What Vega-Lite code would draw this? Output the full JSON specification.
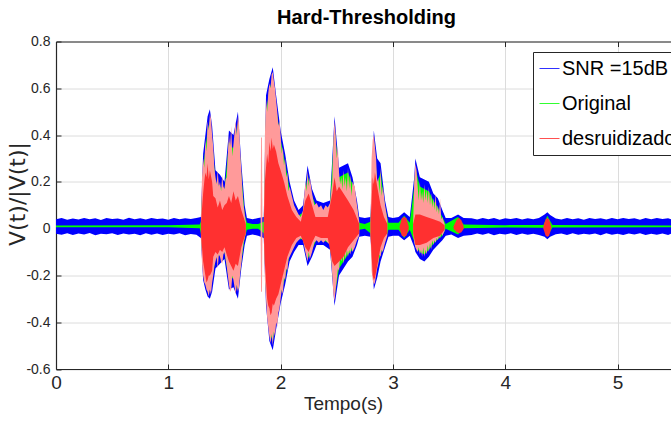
{
  "$schema": "https://vega.github.io/schema/vega-lite/v6.json",
  "autosize": {"type": "none"},
  "padding": {"left": 56, "top": 41.5, "right": 0, "bottom": 52},
  "width": 615,
  "height": 327.5,
  "background": "white",
  "title": {"text": "Hard-Thresholding", "fontSize": 20, "fontWeight": "bold", "font": "Liberation Sans Narrow, Liberation Sans", "color": "#000000", "anchor": "middle", "offset": 7, "dx": 3},
  "config": {"view": {"stroke": null}, "font": "Liberation Sans"},
  "datasets": {
    "blue": [
      {"t":0.00,"hi":0.040,"lo":-0.022},{"t":0.05,"hi":0.045,"lo":-0.026},{"t":0.10,"hi":0.038,"lo":-0.020},{"t":0.15,"hi":0.043,"lo":-0.027},
      {"t":0.20,"hi":0.039,"lo":-0.021},{"t":0.25,"hi":0.046,"lo":-0.025},{"t":0.30,"hi":0.040,"lo":-0.019},{"t":0.35,"hi":0.044,"lo":-0.028},
      {"t":0.40,"hi":0.037,"lo":-0.022},{"t":0.45,"hi":0.045,"lo":-0.024},{"t":0.50,"hi":0.041,"lo":-0.020},{"t":0.55,"hi":0.043,"lo":-0.027},
      {"t":0.60,"hi":0.038,"lo":-0.021},{"t":0.65,"hi":0.047,"lo":-0.025},{"t":0.70,"hi":0.040,"lo":-0.022},{"t":0.75,"hi":0.044,"lo":-0.028},
      {"t":0.80,"hi":0.039,"lo":-0.020},{"t":0.85,"hi":0.045,"lo":-0.026},{"t":0.90,"hi":0.041,"lo":-0.021},{"t":0.95,"hi":0.043,"lo":-0.027},
      {"t":1.00,"hi":0.038,"lo":-0.022},{"t":1.05,"hi":0.046,"lo":-0.025},{"t":1.10,"hi":0.040,"lo":-0.020},{"t":1.15,"hi":0.044,"lo":-0.028},
      {"t":1.20,"hi":0.041,"lo":-0.023},{"t":1.25,"hi":0.045,"lo":-0.026},
      {"t":1.29,"hi":0.05,"lo":-0.04},{"t":1.31,"hi":0.32,"lo":-0.22},{"t":1.33,"hi":0.40,"lo":-0.26},{"t":1.35,"hi":0.48,"lo":-0.29},
      {"t":1.37,"hi":0.51,"lo":-0.30},{"t":1.39,"hi":0.44,"lo":-0.27},{"t":1.42,"hi":0.25,"lo":-0.17},{"t":1.46,"hi":0.23,"lo":-0.15},
      {"t":1.50,"hi":0.20,"lo":-0.13},{"t":1.54,"hi":0.42,"lo":-0.26},{"t":1.58,"hi":0.40,"lo":-0.25},{"t":1.62,"hi":0.50,"lo":-0.30},
      {"t":1.65,"hi":0.28,"lo":-0.17},{"t":1.68,"hi":0.10,"lo":-0.07},{"t":1.70,"hi":0.045,"lo":-0.03},{"t":1.75,"hi":0.04,"lo":-0.025},
      {"t":1.80,"hi":0.045,"lo":-0.03},{"t":1.85,"hi":0.05,"lo":-0.04},{"t":1.87,"hi":0.57,"lo":-0.33},{"t":1.90,"hi":0.64,"lo":-0.48},
      {"t":1.93,"hi":0.69,"lo":-0.52},{"t":1.96,"hi":0.57,"lo":-0.43},{"t":2.00,"hi":0.42,"lo":-0.32},{"t":2.04,"hi":0.32,"lo":-0.24},
      {"t":2.08,"hi":0.20,"lo":-0.14},{"t":2.12,"hi":0.12,"lo":-0.10},{"t":2.16,"hi":0.08,"lo":-0.07},{"t":2.20,"hi":0.10,"lo":-0.07},
      {"t":2.24,"hi":0.27,"lo":-0.16},{"t":2.28,"hi":0.17,"lo":-0.12},{"t":2.32,"hi":0.12,"lo":-0.07},{"t":2.38,"hi":0.11,"lo":-0.07},
      {"t":2.44,"hi":0.12,"lo":-0.09},{"t":2.48,"hi":0.48,"lo":-0.33},{"t":2.52,"hi":0.26,"lo":-0.20},{"t":2.56,"hi":0.27,"lo":-0.17},
      {"t":2.60,"hi":0.28,"lo":-0.14},{"t":2.64,"hi":0.22,"lo":-0.12},{"t":2.68,"hi":0.12,"lo":-0.07},{"t":2.70,"hi":0.05,"lo":-0.035},
      {"t":2.75,"hi":0.045,"lo":-0.03},{"t":2.80,"hi":0.05,"lo":-0.035},{"t":2.83,"hi":0.42,"lo":-0.26},{"t":2.86,"hi":0.30,"lo":-0.21},
      {"t":2.89,"hi":0.28,"lo":-0.14},{"t":2.93,"hi":0.12,"lo":-0.08},{"t":2.96,"hi":0.05,"lo":-0.035},{"t":3.00,"hi":0.045,"lo":-0.03},
      {"t":3.05,"hi":0.05,"lo":-0.03},{"t":3.10,"hi":0.07,"lo":-0.05},{"t":3.15,"hi":0.05,"lo":-0.03},{"t":3.19,"hi":0.22,"lo":-0.08},
      {"t":3.20,"hi":0.30,"lo":-0.10},{"t":3.24,"hi":0.22,"lo":-0.13},{"t":3.28,"hi":0.21,"lo":-0.14},{"t":3.32,"hi":0.20,"lo":-0.12},
      {"t":3.36,"hi":0.15,"lo":-0.09},{"t":3.40,"hi":0.13,"lo":-0.07},{"t":3.44,"hi":0.08,"lo":-0.05},{"t":3.47,"hi":0.045,"lo":-0.03},
      {"t":3.52,"hi":0.045,"lo":-0.025},{"t":3.58,"hi":0.06,"lo":-0.04},{"t":3.63,"hi":0.045,"lo":-0.03},{"t":3.70,"hi":0.044,"lo":-0.027},
      {"t":3.75,"hi":0.039,"lo":-0.021},{"t":3.80,"hi":0.046,"lo":-0.026},{"t":3.85,"hi":0.040,"lo":-0.020},{"t":3.90,"hi":0.045,"lo":-0.028},
      {"t":3.95,"hi":0.038,"lo":-0.022},{"t":4.00,"hi":0.044,"lo":-0.025},{"t":4.05,"hi":0.041,"lo":-0.020},{"t":4.10,"hi":0.046,"lo":-0.027},
      {"t":4.15,"hi":0.039,"lo":-0.021},{"t":4.20,"hi":0.044,"lo":-0.026},{"t":4.25,"hi":0.040,"lo":-0.022},{"t":4.30,"hi":0.045,"lo":-0.027},
      {"t":4.35,"hi":0.06,"lo":-0.035},{"t":4.375,"hi":0.07,"lo":-0.045},{"t":4.40,"hi":0.058,"lo":-0.035},{"t":4.45,"hi":0.043,"lo":-0.024},
      {"t":4.50,"hi":0.039,"lo":-0.021},{"t":4.55,"hi":0.045,"lo":-0.027},{"t":4.60,"hi":0.040,"lo":-0.020},{"t":4.65,"hi":0.044,"lo":-0.026},
      {"t":4.70,"hi":0.038,"lo":-0.022},{"t":4.75,"hi":0.046,"lo":-0.025},{"t":4.80,"hi":0.041,"lo":-0.021},{"t":4.85,"hi":0.044,"lo":-0.028},
      {"t":4.90,"hi":0.039,"lo":-0.020},{"t":4.95,"hi":0.045,"lo":-0.026},{"t":5.00,"hi":0.040,"lo":-0.022},{"t":5.05,"hi":0.046,"lo":-0.027},
      {"t":5.10,"hi":0.041,"lo":-0.021},{"t":5.15,"hi":0.044,"lo":-0.025},{"t":5.20,"hi":0.038,"lo":-0.020},{"t":5.25,"hi":0.045,"lo":-0.027},
      {"t":5.30,"hi":0.040,"lo":-0.022},{"t":5.35,"hi":0.046,"lo":-0.026},{"t":5.40,"hi":0.041,"lo":-0.021},{"t":5.45,"hi":0.044,"lo":-0.027},
      {"t":5.476,"hi":0.040,"lo":-0.022}
    ],
    "green": [
      {"t":0.00,"hi":0.013,"lo":0.006},{"t":1.00,"hi":0.014,"lo":0.006},{"t":1.28,"hi":0.018,"lo":0.002},{"t":1.29,"hi":0.03,"lo":-0.02},
      {"t":1.31,"hi":0.26,"lo":-0.18},{"t":1.33,"hi":0.34,"lo":-0.22},{"t":1.35,"hi":0.42,"lo":-0.25},{"t":1.37,"hi":0.46,"lo":-0.26},
      {"t":1.39,"hi":0.38,"lo":-0.22},{"t":1.42,"hi":0.20,"lo":-0.13},{"t":1.46,"hi":0.18,"lo":-0.11},{"t":1.50,"hi":0.16,"lo":-0.10},
      {"t":1.54,"hi":0.37,"lo":-0.22},{"t":1.58,"hi":0.34,"lo":-0.21},{"t":1.62,"hi":0.45,"lo":-0.26},{"t":1.65,"hi":0.23,"lo":-0.14},
      {"t":1.68,"hi":0.06,"lo":-0.04},{"t":1.70,"hi":0.025,"lo":-0.005},{"t":1.75,"hi":0.02,"lo":0.0},{"t":1.80,"hi":0.02,"lo":0.0},
      {"t":1.85,"hi":0.03,"lo":-0.02},{"t":1.87,"hi":0.50,"lo":-0.28},{"t":1.90,"hi":0.59,"lo":-0.44},{"t":1.93,"hi":0.65,"lo":-0.48},
      {"t":1.96,"hi":0.52,"lo":-0.39},{"t":2.00,"hi":0.38,"lo":-0.28},{"t":2.04,"hi":0.28,"lo":-0.21},{"t":2.08,"hi":0.17,"lo":-0.11},
      {"t":2.12,"hi":0.09,"lo":-0.07},{"t":2.16,"hi":0.055,"lo":-0.045},{"t":2.20,"hi":0.07,"lo":-0.045},{"t":2.24,"hi":0.23,"lo":-0.13},
      {"t":2.28,"hi":0.14,"lo":-0.09},{"t":2.32,"hi":0.09,"lo":-0.045},{"t":2.38,"hi":0.075,"lo":-0.05},{"t":2.44,"hi":0.10,"lo":-0.065},
      {"t":2.48,"hi":0.44,"lo":-0.29},{"t":2.52,"hi":0.22,"lo":-0.17},{"t":2.56,"hi":0.23,"lo":-0.14},{"t":2.60,"hi":0.24,"lo":-0.11},
      {"t":2.64,"hi":0.19,"lo":-0.09},{"t":2.68,"hi":0.09,"lo":-0.045},{"t":2.70,"hi":0.025,"lo":-0.005},{"t":2.75,"hi":0.02,"lo":0.0},
      {"t":2.80,"hi":0.03,"lo":-0.02},{"t":2.83,"hi":0.38,"lo":-0.22},{"t":2.86,"hi":0.19,"lo":-0.16},{"t":2.89,"hi":0.24,"lo":-0.11},
      {"t":2.93,"hi":0.09,"lo":-0.055},{"t":2.96,"hi":0.025,"lo":-0.005},{"t":3.05,"hi":0.025,"lo":-0.005},{"t":3.10,"hi":0.055,"lo":-0.04},
      {"t":3.15,"hi":0.025,"lo":-0.005},{"t":3.19,"hi":0.18,"lo":-0.055},{"t":3.20,"hi":0.26,"lo":-0.075},{"t":3.24,"hi":0.18,"lo":-0.10},
      {"t":3.28,"hi":0.17,"lo":-0.11},{"t":3.32,"hi":0.16,"lo":-0.09},{"t":3.36,"hi":0.12,"lo":-0.065},{"t":3.40,"hi":0.09,"lo":-0.045},
      {"t":3.44,"hi":0.05,"lo":-0.03},{"t":3.47,"hi":0.02,"lo":0.0},{"t":3.58,"hi":0.05,"lo":-0.025},{"t":3.63,"hi":0.018,"lo":0.002},
      {"t":4.00,"hi":0.015,"lo":0.005},{"t":4.34,"hi":0.016,"lo":0.004},{"t":4.375,"hi":0.055,"lo":-0.035},{"t":4.42,"hi":0.016,"lo":0.005},
      {"t":5.476,"hi":0.013,"lo":0.006}
    ],
    "pink": [
      {"seg":"A","t":1.29,"hi":0.03,"lo":-0.03},{"seg":"A","t":1.30,"hi":0.22,"lo":-0.15},{"seg":"A","t":1.31,"hi":0.30,"lo":-0.20},
      {"seg":"A","t":1.32,"hi":0.26,"lo":-0.23},{"seg":"A","t":1.33,"hi":0.38,"lo":-0.24},{"seg":"A","t":1.34,"hi":0.33,"lo":-0.26},
      {"seg":"A","t":1.35,"hi":0.46,"lo":-0.27},{"seg":"A","t":1.36,"hi":0.42,"lo":-0.29},
      {"seg":"A","t":1.37,"hi":0.49,"lo":-0.26},{"seg":"A","t":1.38,"hi":0.47,"lo":-0.28},{"seg":"A","t":1.39,"hi":0.40,"lo":-0.23},{"seg":"A","t":1.40,"hi":0.35,"lo":-0.20},
      {"seg":"A","t":1.41,"hi":0.26,"lo":-0.16},{"seg":"A","t":1.42,"hi":0.22,"lo":-0.14},{"seg":"A","t":1.43,"hi":0.19,"lo":-0.12},{"seg":"A","t":1.44,"hi":0.25,"lo":-0.17},
      {"seg":"A","t":1.45,"hi":0.18,"lo":-0.11},{"seg":"A","t":1.46,"hi":0.20,"lo":-0.12},{"seg":"A","t":1.47,"hi":0.16,"lo":-0.14},
      {"seg":"A","t":1.48,"hi":0.23,"lo":-0.15},{"seg":"A","t":1.49,"hi":0.18,"lo":-0.11},{"seg":"A","t":1.50,"hi":0.17,"lo":-0.10},{"seg":"A","t":1.51,"hi":0.21,"lo":-0.13},{"seg":"A","t":1.52,"hi":0.22,"lo":-0.16},
      {"seg":"A","t":1.53,"hi":0.32,"lo":-0.20},{"seg":"A","t":1.54,"hi":0.40,"lo":-0.24},{"seg":"A","t":1.55,"hi":0.35,"lo":-0.27},{"seg":"A","t":1.56,"hi":0.44,"lo":-0.26},{"seg":"A","t":1.57,"hi":0.31,"lo":-0.20},{"seg":"A","t":1.58,"hi":0.36,"lo":-0.22},
      {"seg":"A","t":1.59,"hi":0.41,"lo":-0.25},{"seg":"A","t":1.60,"hi":0.46,"lo":-0.28},{"seg":"A","t":1.61,"hi":0.40,"lo":-0.24},{"seg":"A","t":1.62,"hi":0.48,"lo":-0.27},{"seg":"A","t":1.63,"hi":0.45,"lo":-0.25},
      {"seg":"A","t":1.64,"hi":0.33,"lo":-0.19},{"seg":"A","t":1.65,"hi":0.25,"lo":-0.15},{"seg":"A","t":1.66,"hi":0.16,"lo":-0.10},{"seg":"A","t":1.67,"hi":0.10,"lo":-0.06},{"seg":"A","t":1.69,"hi":0.03,"lo":-0.02},
      {"seg":"S","t":1.822,"hi":0.02,"lo":-0.02},{"seg":"S","t":1.826,"hi":0.39,"lo":-0.27},{"seg":"S","t":1.834,"hi":0.39,"lo":-0.27},{"seg":"S","t":1.838,"hi":0.02,"lo":-0.02},
      {"seg":"B","t":1.85,"hi":0.03,"lo":-0.03},{"seg":"B","t":1.86,"hi":0.40,"lo":-0.22},{"seg":"B","t":1.87,"hi":0.55,"lo":-0.30},
      {"seg":"B","t":1.88,"hi":0.50,"lo":-0.38},{"seg":"B","t":1.89,"hi":0.58,"lo":-0.42},{"seg":"B","t":1.90,"hi":0.62,"lo":-0.46},
      {"seg":"B","t":1.91,"hi":0.60,"lo":-0.49},{"seg":"B","t":1.92,"hi":0.66,"lo":-0.45},{"seg":"B","t":1.93,"hi":0.67,"lo":-0.50},
      {"seg":"B","t":1.94,"hi":0.63,"lo":-0.44},{"seg":"B","t":1.95,"hi":0.60,"lo":-0.46},{"seg":"B","t":1.96,"hi":0.55,"lo":-0.40},
      {"seg":"B","t":1.97,"hi":0.50,"lo":-0.42},{"seg":"B","t":1.98,"hi":0.44,"lo":-0.36},{"seg":"B","t":1.99,"hi":0.46,"lo":-0.34},
      {"seg":"B","t":2.00,"hi":0.40,"lo":-0.30},{"seg":"B","t":2.01,"hi":0.32,"lo":-0.26},{"seg":"B","t":2.02,"hi":0.35,"lo":-0.28},{"seg":"B","t":2.03,"hi":0.27,"lo":-0.21},{"seg":"B","t":2.04,"hi":0.30,"lo":-0.22},
      {"seg":"B","t":2.05,"hi":0.22,"lo":-0.17},{"seg":"B","t":2.06,"hi":0.24,"lo":-0.18},{"seg":"B","t":2.07,"hi":0.16,"lo":-0.13},{"seg":"B","t":2.08,"hi":0.18,"lo":-0.12},{"seg":"B","t":2.10,"hi":0.14,"lo":-0.10},
      {"seg":"B","t":2.12,"hi":0.10,"lo":-0.08},{"seg":"B","t":2.14,"hi":0.08,"lo":-0.06},{"seg":"B","t":2.16,"hi":0.06,"lo":-0.05},
      {"seg":"B","t":2.18,"hi":0.05,"lo":-0.04},{"seg":"B","t":2.20,"hi":0.08,"lo":-0.05},{"seg":"B","t":2.22,"hi":0.20,"lo":-0.10},
      {"seg":"B","t":2.23,"hi":0.16,"lo":-0.12},{"seg":"B","t":2.24,"hi":0.25,"lo":-0.14},{"seg":"B","t":2.25,"hi":0.18,"lo":-0.10},{"seg":"B","t":2.26,"hi":0.22,"lo":-0.13},{"seg":"B","t":2.28,"hi":0.15,"lo":-0.10},
      {"seg":"B","t":2.30,"hi":0.10,"lo":-0.06},{"seg":"B","t":2.32,"hi":0.11,"lo":-0.05},{"seg":"B","t":2.34,"hi":0.09,"lo":-0.06},
      {"seg":"B","t":2.36,"hi":0.10,"lo":-0.05},{"seg":"B","t":2.38,"hi":0.08,"lo":-0.06},{"seg":"B","t":2.40,"hi":0.10,"lo":-0.05},
      {"seg":"B","t":2.42,"hi":0.09,"lo":-0.06},{"seg":"B","t":2.44,"hi":0.11,"lo":-0.07},{"seg":"B","t":2.46,"hi":0.20,"lo":-0.20},
      {"seg":"B","t":2.47,"hi":0.38,"lo":-0.28},{"seg":"B","t":2.48,"hi":0.46,"lo":-0.31},{"seg":"B","t":2.49,"hi":0.40,"lo":-0.26},
      {"seg":"B","t":2.50,"hi":0.30,"lo":-0.22},{"seg":"B","t":2.51,"hi":0.35,"lo":-0.17},{"seg":"B","t":2.52,"hi":0.24,"lo":-0.18},{"seg":"B","t":2.53,"hi":0.19,"lo":-0.12},{"seg":"B","t":2.54,"hi":0.22,"lo":-0.14},
      {"seg":"B","t":2.55,"hi":0.17,"lo":-0.11},{"seg":"B","t":2.56,"hi":0.25,"lo":-0.15},{"seg":"B","t":2.57,"hi":0.18,"lo":-0.10},{"seg":"B","t":2.58,"hi":0.22,"lo":-0.13},{"seg":"B","t":2.59,"hi":0.16,"lo":-0.09},{"seg":"B","t":2.60,"hi":0.26,"lo":-0.12},
      {"seg":"B","t":2.61,"hi":0.17,"lo":-0.09},{"seg":"B","t":2.62,"hi":0.23,"lo":-0.11},{"seg":"B","t":2.63,"hi":0.14,"lo":-0.08},{"seg":"B","t":2.64,"hi":0.20,"lo":-0.10},{"seg":"B","t":2.66,"hi":0.18,"lo":-0.08},
      {"seg":"B","t":2.68,"hi":0.10,"lo":-0.05},{"seg":"B","t":2.70,"hi":0.03,"lo":-0.03},
      {"seg":"C","t":2.80,"hi":0.03,"lo":-0.03},{"seg":"C","t":2.81,"hi":0.30,"lo":-0.18},{"seg":"C","t":2.82,"hi":0.38,"lo":-0.22},
      {"seg":"C","t":2.83,"hi":0.40,"lo":-0.24},{"seg":"C","t":2.84,"hi":0.35,"lo":-0.23},{"seg":"C","t":2.85,"hi":0.30,"lo":-0.20},
      {"seg":"C","t":2.86,"hi":0.20,"lo":-0.17},{"seg":"C","t":2.87,"hi":0.22,"lo":-0.15},{"seg":"C","t":2.88,"hi":0.15,"lo":-0.11},{"seg":"C","t":2.89,"hi":0.26,"lo":-0.12},{"seg":"C","t":2.90,"hi":0.14,"lo":-0.09},{"seg":"C","t":2.91,"hi":0.18,"lo":-0.10},
      {"seg":"C","t":2.93,"hi":0.10,"lo":-0.06},{"seg":"C","t":2.95,"hi":0.04,"lo":-0.03},
      {"seg":"D","t":3.18,"hi":0.03,"lo":-0.02},{"seg":"D","t":3.19,"hi":0.20,"lo":-0.06},{"seg":"D","t":3.20,"hi":0.28,"lo":-0.08},
      {"seg":"D","t":3.21,"hi":0.25,"lo":-0.09},{"seg":"D","t":3.22,"hi":0.18,"lo":-0.10},{"seg":"D","t":3.23,"hi":0.12,"lo":-0.08},{"seg":"D","t":3.24,"hi":0.20,"lo":-0.11},
      {"seg":"D","t":3.25,"hi":0.12,"lo":-0.09},{"seg":"D","t":3.26,"hi":0.16,"lo":-0.12},{"seg":"D","t":3.27,"hi":0.11,"lo":-0.08},{"seg":"D","t":3.28,"hi":0.19,"lo":-0.12},{"seg":"D","t":3.29,"hi":0.12,"lo":-0.09},{"seg":"D","t":3.30,"hi":0.17,"lo":-0.11},
      {"seg":"D","t":3.31,"hi":0.11,"lo":-0.07},{"seg":"D","t":3.32,"hi":0.18,"lo":-0.10},{"seg":"D","t":3.33,"hi":0.10,"lo":-0.06},{"seg":"D","t":3.34,"hi":0.15,"lo":-0.09},{"seg":"D","t":3.35,"hi":0.09,"lo":-0.05},{"seg":"D","t":3.36,"hi":0.13,"lo":-0.07},
      {"seg":"D","t":3.37,"hi":0.08,"lo":-0.05},{"seg":"D","t":3.38,"hi":0.15,"lo":-0.06},{"seg":"D","t":3.39,"hi":0.07,"lo":-0.04},{"seg":"D","t":3.40,"hi":0.10,"lo":-0.05},{"seg":"D","t":3.41,"hi":0.06,"lo":-0.03},{"seg":"D","t":3.42,"hi":0.13,"lo":-0.04},
      {"seg":"D","t":3.43,"hi":0.04,"lo":-0.02},{"seg":"D","t":3.44,"hi":0.05,"lo":-0.03},{"seg":"D","t":3.46,"hi":0.02,"lo":-0.01}
    ],
    "red": [
      {"seg":"A","t":1.29,"hi":0.02,"lo":-0.02},{"seg":"A","t":1.31,"hi":0.15,"lo":-0.14},{"seg":"A","t":1.32,"hi":0.20,"lo":-0.17},{"seg":"A","t":1.33,"hi":0.24,"lo":-0.20},
      {"seg":"A","t":1.34,"hi":0.22,"lo":-0.23},{"seg":"A","t":1.35,"hi":0.28,"lo":-0.22},{"seg":"A","t":1.36,"hi":0.21,"lo":-0.20},{"seg":"A","t":1.37,"hi":0.25,"lo":-0.20},{"seg":"A","t":1.39,"hi":0.20,"lo":-0.18},
      {"seg":"A","t":1.40,"hi":0.14,"lo":-0.12},{"seg":"A","t":1.42,"hi":0.13,"lo":-0.10},{"seg":"A","t":1.44,"hi":0.09,"lo":-0.11},{"seg":"A","t":1.46,"hi":0.12,"lo":-0.09},{"seg":"A","t":1.48,"hi":0.08,"lo":-0.10},{"seg":"A","t":1.50,"hi":0.10,"lo":-0.08},
      {"seg":"A","t":1.52,"hi":0.11,"lo":-0.11},{"seg":"A","t":1.54,"hi":0.14,"lo":-0.14},{"seg":"A","t":1.56,"hi":0.11,"lo":-0.16},{"seg":"A","t":1.58,"hi":0.16,"lo":-0.18},{"seg":"A","t":1.60,"hi":0.12,"lo":-0.15},{"seg":"A","t":1.62,"hi":0.14,"lo":-0.16},
      {"seg":"A","t":1.65,"hi":0.08,"lo":-0.08},{"seg":"A","t":1.69,"hi":0.02,"lo":-0.02},
      {"seg":"B","t":1.85,"hi":0.02,"lo":-0.02},{"seg":"B","t":1.86,"hi":0.20,"lo":-0.15},{"seg":"B","t":1.88,"hi":0.32,"lo":-0.30},
      {"seg":"B","t":1.89,"hi":0.28,"lo":-0.33},{"seg":"B","t":1.90,"hi":0.37,"lo":-0.34},{"seg":"B","t":1.91,"hi":0.33,"lo":-0.37},{"seg":"B","t":1.92,"hi":0.39,"lo":-0.36},{"seg":"B","t":1.93,"hi":0.34,"lo":-0.32},{"seg":"B","t":1.94,"hi":0.36,"lo":-0.33},
      {"seg":"B","t":1.96,"hi":0.33,"lo":-0.30},{"seg":"B","t":1.98,"hi":0.28,"lo":-0.28},{"seg":"B","t":2.00,"hi":0.25,"lo":-0.24},
      {"seg":"B","t":2.03,"hi":0.20,"lo":-0.18},{"seg":"B","t":2.06,"hi":0.14,"lo":-0.12},{"seg":"B","t":2.10,"hi":0.08,"lo":-0.07},
      {"seg":"B","t":2.14,"hi":0.05,"lo":-0.04},{"seg":"B","t":2.18,"hi":0.03,"lo":-0.03},{"seg":"B","t":2.22,"hi":0.12,"lo":-0.08},
      {"seg":"B","t":2.25,"hi":0.15,"lo":-0.10},{"seg":"B","t":2.28,"hi":0.10,"lo":-0.06},{"seg":"B","t":2.31,"hi":0.05,"lo":-0.03},
      {"seg":"B","t":2.36,"hi":0.05,"lo":-0.04},{"seg":"B","t":2.42,"hi":0.05,"lo":-0.04},{"seg":"B","t":2.46,"hi":0.15,"lo":-0.14},
      {"seg":"B","t":2.48,"hi":0.22,"lo":-0.16},{"seg":"B","t":2.50,"hi":0.16,"lo":-0.15},{"seg":"B","t":2.52,"hi":0.18,"lo":-0.14},{"seg":"B","t":2.56,"hi":0.15,"lo":-0.12},
      {"seg":"B","t":2.60,"hi":0.12,"lo":-0.08},{"seg":"B","t":2.65,"hi":0.08,"lo":-0.05},{"seg":"B","t":2.70,"hi":0.02,"lo":-0.02},
      {"seg":"C","t":2.80,"hi":0.02,"lo":-0.02},{"seg":"C","t":2.82,"hi":0.22,"lo":-0.20},{"seg":"C","t":2.83,"hi":0.19,"lo":-0.22},{"seg":"C","t":2.84,"hi":0.24,"lo":-0.21},
      {"seg":"C","t":2.86,"hi":0.18,"lo":-0.16},{"seg":"C","t":2.89,"hi":0.10,"lo":-0.08},{"seg":"C","t":2.92,"hi":0.05,"lo":-0.04},
      {"seg":"C","t":2.95,"hi":0.02,"lo":-0.02},
      {"seg":"E","t":3.06,"hi":0.01,"lo":0.0},{"seg":"E","t":3.08,"hi":0.045,"lo":-0.03},{"seg":"E","t":3.10,"hi":0.05,"lo":-0.035},
      {"seg":"E","t":3.12,"hi":0.045,"lo":-0.03},{"seg":"E","t":3.14,"hi":0.01,"lo":0.0},
      {"seg":"D","t":3.18,"hi":0.02,"lo":-0.02},{"seg":"D","t":3.20,"hi":0.06,"lo":-0.07},{"seg":"D","t":3.24,"hi":0.06,"lo":-0.07},
      {"seg":"D","t":3.30,"hi":0.05,"lo":-0.06},{"seg":"D","t":3.36,"hi":0.04,"lo":-0.04},{"seg":"D","t":3.42,"hi":0.03,"lo":-0.03},
      {"seg":"D","t":3.46,"hi":0.015,"lo":-0.005},
      {"seg":"F","t":3.54,"hi":0.01,"lo":0.0},{"seg":"F","t":3.57,"hi":0.04,"lo":-0.015},{"seg":"F","t":3.59,"hi":0.045,"lo":-0.02},
      {"seg":"F","t":3.61,"hi":0.035,"lo":-0.015},{"seg":"F","t":3.63,"hi":0.01,"lo":0.0},
      {"seg":"G","t":4.34,"hi":0.01,"lo":0.0},{"seg":"G","t":4.36,"hi":0.04,"lo":-0.03},{"seg":"G","t":4.375,"hi":0.045,"lo":-0.035},
      {"seg":"G","t":4.39,"hi":0.04,"lo":-0.03},{"seg":"G","t":4.41,"hi":0.01,"lo":0.0}
    ]
  },
  "resolve": {"axis": {"x": "independent"}},
  "layer": [
    {
      "data": {"name": "green"},
      "transform": [{"filter": "datum.t <= 1"}],
      "mark": {"type": "line", "strokeWidth": 1},
      "encoding": {
        "x": {"field": "t", "type": "quantitative", "axis": null},
        "y": {"field": "lo", "type": "quantitative"},
        "stroke": {"datum": "SNR =15dB", "type": "nominal",
          "scale": {"domain": ["SNR =15dB", "Original", "desruidizado"], "range": ["#3030ff", "#30ff30", "#ff5050"]},
          "legend": {"orient": "none", "legendX": 477, "legendY": 10.5, "title": null, "symbolType": "stroke",
            "labelFontSize": 20, "labelFont": "Liberation Sans", "labelColor": "#000000", "labelLimit": 400,
            "rowPadding": 14, "padding": 6, "strokeColor": "#262626", "fillColor": "#ffffff", "cornerRadius": 0, "labelOffset": 2,
            "encode": {"symbols": {"update": {"strokeWidth": {"value": 1}, "size": {"value": 400}, "shape": {"value": "stroke"}, "fill": {"value": "transparent"}, "opacity": {"value": 1}, "stroke": {"scale": "stroke", "field": "value"}}}}}}
      }
    },
    {
      "data": {"name": "green"},
      "transform": [{"filter": "datum.t <= 1"}],
      "mark": {"type": "line", "strokeWidth": 1},
      "encoding": {
        "x": {"field": "t", "type": "quantitative", "axis": null},
        "y": {"field": "lo", "type": "quantitative"},
        "stroke": {"datum": "Original", "type": "nominal"}
      }
    },
    {
      "data": {"name": "green"},
      "transform": [{"filter": "datum.t <= 1"}],
      "mark": {"type": "line", "strokeWidth": 1},
      "encoding": {
        "x": {"field": "t", "type": "quantitative", "axis": null},
        "y": {"field": "lo", "type": "quantitative"},
        "stroke": {"datum": "desruidizado", "type": "nominal"}
      }
    },
    {
      "data": {"name": "blue"},
      "mark": {"type": "area", "clip": true, "color": "#0000ff"},
      "encoding": {
        "x": {"field": "t", "type": "quantitative", "scale": {"domain": [0, 5.476], "nice": false, "zero": false},
          "axis": {"orient": "bottom", "values": [0, 1, 2, 3, 4, 5], "grid": true, "gridColor": "#dcdcdc", "gridWidth": 1,
            "domainColor": "#262626", "domainWidth": 1.2, "tickColor": "#262626", "tickSize": -5, "labelPadding": 9,
            "labelFont": "Liberation Sans Narrow, Liberation Sans", "labelFontSize": 19, "labelColor": "#262626", "labelFlush": false,
            "title": "Tempo(s)", "titleFont": "Liberation Sans Narrow, Liberation Sans", "titleFontSize": 19, "titleFontWeight": "normal", "titleColor": "#262626", "titlePadding": 2, "titleX": 287}},
        "y": {"field": "hi", "type": "quantitative", "scale": {"domain": [-0.6, 0.8], "nice": false, "zero": false},
          "axis": {"values": [-0.6, -0.4, -0.2, 0, 0.2, 0.4, 0.6, 0.8], "grid": true, "gridColor": "#dcdcdc", "gridWidth": 1,
            "domainColor": "#262626", "domainWidth": 1.2, "tickColor": "#262626", "tickSize": -5, "labelPadding": 11,
            "labelExpr": "datum.value == 0 ? '0' : (datum.value < 0 ? '-' + format(-datum.value, '.1f') : format(datum.value, '.1f'))",
            "labelFont": "Liberation Sans Narrow, Liberation Sans", "labelFontSize": 14, "labelColor": "#262626", "labelFlush": false,
            "title": "V(t)/|V(t)|", "titleFont": "DejaVu Sans", "titleFontSize": 22, "titleFontWeight": "normal", "titleColor": "#262626", "titlePadding": -4, "titleY": 152}},
        "y2": {"field": "lo"}
      }
    },
    {
      "data": {"name": "green"},
      "mark": {"type": "area", "clip": true, "color": "#00ff00"},
      "encoding": {
        "x": {"field": "t", "type": "quantitative", "axis": null},
        "y": {"field": "hi", "type": "quantitative"},
        "y2": {"field": "lo"}
      }
    },
    {
      "data": {"name": "pink"},
      "mark": {"type": "area", "clip": true, "color": "#ff9a9a"},
      "encoding": {
        "x": {"field": "t", "type": "quantitative",
          "axis": {"orient": "top", "values": [0, 1, 2, 3, 4, 5], "labels": false, "grid": false, "title": null,
            "domainColor": "#262626", "domainWidth": 1.2, "tickColor": "#262626", "tickSize": -5}},
        "y": {"field": "hi", "type": "quantitative"},
        "y2": {"field": "lo"},
        "detail": {"field": "seg"}
      }
    },
    {
      "data": {"name": "red"},
      "mark": {"type": "area", "clip": true, "color": "#ff3030"},
      "encoding": {
        "x": {"field": "t", "type": "quantitative", "axis": null},
        "y": {"field": "hi", "type": "quantitative"},
        "y2": {"field": "lo"},
        "detail": {"field": "seg"}
      }
    }
  ]
}
